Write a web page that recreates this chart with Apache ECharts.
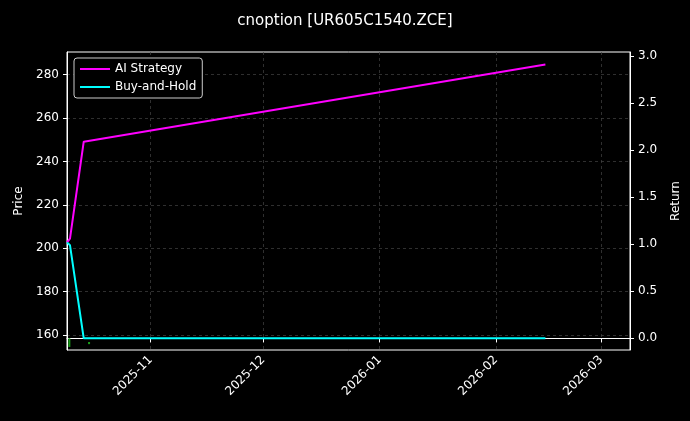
<!DOCTYPE html>
<html>
<head>
<meta charset="utf-8">
<script src="https://cdn.jsdelivr.net/npm/echarts@6/dist/echarts.min.js"></script>
<style>html,body{margin:0;background:#000}#chart{width:690px;height:421px}</style>
</head>
<body>
<div id="chart"></div>
<script>
// strategy curve dates and returns
const dates = ['2025-10-09T17:00', '2025-10-10T12:00', '2025-10-14T04:00', '2026-02-14T04:00']
const aiStrategy = [1.02, 1.06, 2.09, 2.91]
const buyHold = [1.02, 0.99, 0.0, 0.0]
// tiny price candles near the bottom [open, close, low, high]
const candleDates = ['2025-10-10T08:00', '2025-10-15T14:00']
const candles = [[158, 155, 154.5, 158.5], [156.5, 156, 155.8, 156.8]]
const monthTicks = ['2025-11-01', '2025-12-01', '2026-01-01', '2026-02-01', '2026-03-01']

const font = 'DejaVu Sans'
const chart = echarts.init(document.getElementById('chart'))
const ts = d => new Date(d).getTime()
const tickVals = monthTicks.map(ts)
const fmtMonth = v => {
    const d = new Date(v)
    return d.getFullYear() + '-' + String(d.getMonth() + 1).padStart(2, '0')
}
const grid = {color: '#444', type: [3, 3], width: 0.7}

chart.setOption({
    backgroundColor: '#000',
    animation: false,
    textStyle: {fontFamily: font, color: '#fff'},
    title: {text: 'cnoption [UR605C1540.ZCE]', left: 'center', top: 9,
        textStyle: {color: '#fff', fontSize: 15, fontWeight: 'normal', fontFamily: font}},
    legend: {
        left: 74, top: 58, orient: 'vertical', itemGap: 6,
        backgroundColor: '#000', borderColor: '#ccc', borderWidth: 1, borderRadius: 3,
        padding: [5, 6], itemWidth: 30, itemHeight: 2,
        textStyle: {color: '#fff', fontSize: 12, fontFamily: font},
        data: [{name: 'AI Strategy', icon: 'rect'}, {name: 'Buy-and-Hold', icon: 'rect'}]
    },
    grid: {left: 67, right: 60, top: 52, bottom: 71, show: true, borderColor: '#fff', borderWidth: 1},
    xAxis: {
        type: 'value',
        min: ts('2025-10-09T17:00'),
        max: ts('2026-03-08T17:00'),
        axisLine: {lineStyle: {color: '#fff'}},
        axisTick: {show: true, customValues: tickVals, length: 4, lineStyle: {color: '#fff'}},
        axisLabel: {customValues: tickVals, rotate: 45, color: '#fff', fontSize: 12, fontFamily: font,
            formatter: fmtMonth},
        splitLine: {show: true, lineStyle: grid}
    },
    yAxis: [{
        type: 'value', min: 153.1, max: 290.4,
        name: 'Price', nameLocation: 'middle', nameGap: 42, nameTextStyle: {color: '#fff', fontSize: 12},
        axisLine: {show: true, lineStyle: {color: '#fff'}},
        axisTick: {show: true, length: 4, customValues: [160, 180, 200, 220, 240, 260, 280]},
        axisLabel: {color: '#fff', fontSize: 12, customValues: [160, 180, 200, 220, 240, 260, 280]},
        splitLine: {show: true, lineStyle: grid}
    }, {
        type: 'value', min: -0.124, max: 3.043,
        name: 'Return', nameLocation: 'middle', nameGap: 40, nameTextStyle: {color: '#fff', fontSize: 12},
        axisLine: {show: true, lineStyle: {color: '#fff'}},
        axisTick: {show: true, length: 4, customValues: [0, 0.5, 1, 1.5, 2, 2.5, 3]},
        axisLabel: {color: '#fff', fontSize: 12, customValues: [0, 0.5, 1, 1.5, 2, 2.5, 3],
            formatter: v => v.toFixed(1)},
        splitLine: {show: false}
    }],
    series: [{
        name: 'AI Strategy', type: 'line', yAxisIndex: 1, showSymbol: false,
        color: '#ff00ff', lineStyle: {width: 2},
        data: dates.map((d, i) => [ts(d), aiStrategy[i]])
    }, {
        name: 'Buy-and-Hold', type: 'line', yAxisIndex: 1, showSymbol: false,
        color: '#00ffff', lineStyle: {width: 2},
        data: dates.map((d, i) => [ts(d), buyHold[i]])
    }, {
        type: 'custom', yAxisIndex: 0,
        renderItem: (params, api) => {
            const top = api.coord([api.value(0), api.value(4)])
            const bot = api.coord([api.value(0), api.value(3)])
            return {type: 'rect', shape: {x: top[0] - 1, y: top[1], width: 2, height: Math.max(bot[1] - top[1], 2)},
                style: {fill: '#1a9e1a'}}
        },
        data: candleDates.map((d, i) => [ts(d), ...candles[i]])
    }]
})
</script>
</body>
</html>
